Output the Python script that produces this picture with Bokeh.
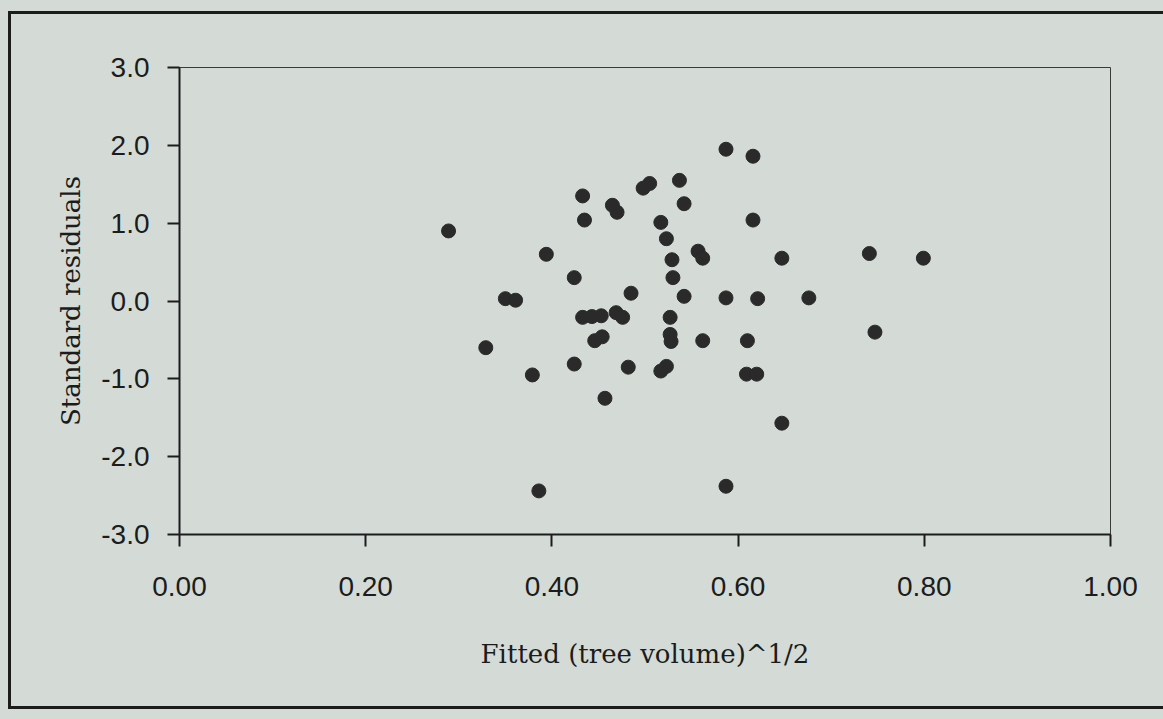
from bokeh.plotting import figure
from bokeh.models import FixedTicker, Range1d
from bokeh.embed import file_html
from bokeh.resources import INLINE

# Fitted (tree volume)^1/2 and standard residuals
fitted = [0.289, 0.350, 0.361, 0.329, 0.379, 0.386, 0.394, 0.424, 0.424, 0.433,
          0.435, 0.433, 0.443, 0.453, 0.446, 0.454, 0.457, 0.465, 0.470, 0.469,
          0.476, 0.482, 0.485, 0.498, 0.505, 0.517, 0.523, 0.517, 0.523, 0.529,
          0.530, 0.527, 0.527, 0.528, 0.537, 0.542, 0.542, 0.557, 0.562, 0.562,
          0.587, 0.587, 0.587, 0.616, 0.616, 0.610, 0.609, 0.620, 0.621, 0.647,
          0.647, 0.676, 0.741, 0.747, 0.799]
std_resid = [0.90, 0.03, 0.01, -0.60, -0.95, -2.44, 0.60, 0.30, -0.81, 1.35,
             1.04, -0.21, -0.20, -0.19, -0.51, -0.46, -1.25, 1.23, 1.14, -0.15,
             -0.21, -0.85, 0.10, 1.45, 1.51, 1.01, 0.80, -0.90, -0.84, 0.53,
             0.30, -0.21, -0.43, -0.52, 1.55, 1.25, 0.06, 0.64, 0.55, -0.51,
             1.95, 0.04, -2.38, 1.86, 1.04, -0.51, -0.94, -0.94, 0.03, 0.55,
             -1.57, 0.04, 0.61, -0.40, 0.55]

x_ticks = [0.0, 0.2, 0.4, 0.6, 0.8, 1.0]
x_tick_labels = ["0.00", "0.20", "0.40", "0.60", "0.80", "1.00"]
y_ticks = [-3.0, -2.0, -1.0, 0.0, 1.0, 2.0, 3.0]
y_tick_labels = ["-3.0", "-2.0", "-1.0", "0.0", "1.0", "2.0", "3.0"]

x_title = "Fitted (tree volume)^1/2"
y_title = "Standard residuals"

BG = "#d4dbd6"
INK = "#1c1c1c"

p = figure(width=1163, height=719, output_backend="svg", toolbar_location=None,
           x_range=Range1d(0, 1), y_range=Range1d(-3, 3),
           min_border_left=179, min_border_right=53,
           min_border_top=67, min_border_bottom=185)

p.background_fill_color = BG
# border area left transparent so the page background (with the panel frame) shows
p.border_fill_color = BG
p.border_fill_alpha = 0
p.outline_line_color = "#3a3a3a"
p.outline_line_width = 1
p.grid.visible = False

# outer frame of the scanned figure panel (left, top and bottom edges;
# its right edge lies beyond the picture)
line = f"linear-gradient({INK}, {INK})"
p.styles = {
    "background": (f"{line} 8px 12px / 3px 697px no-repeat, "
                   f"{line} 8px 11px / 1155px 3px no-repeat, "
                   f"{line} 8px 706px / 1155px 3px no-repeat, "
                   f"{BG}"),
}

p.scatter(fitted, std_resid, size=14, marker="circle",
          fill_color="#2a2a2a", line_color="#2a2a2a")

for ax, ticks, labels in ((p.xaxis[0], x_ticks, x_tick_labels),
                          (p.yaxis[0], y_ticks, y_tick_labels)):
    ax.ticker = FixedTicker(ticks=ticks)
    ax.major_label_overrides = dict(zip(ticks, labels))
    ax.minor_tick_line_color = None
    ax.major_tick_in = 0
    ax.major_tick_out = 12
    ax.major_tick_line_color = INK
    ax.major_tick_line_width = 2
    ax.axis_line_color = INK
    ax.axis_line_width = 2
    ax.major_label_text_font = "Liberation Sans"
    ax.major_label_text_font_size = "28px"
    ax.major_label_text_color = INK
    ax.axis_label_text_font = "DejaVu Serif"
    ax.axis_label_text_font_style = "normal"
    ax.axis_label_text_font_size = "26px"
    ax.axis_label_text_color = INK

p.xaxis.axis_label = x_title
p.yaxis.axis_label = y_title
p.xaxis.major_label_standoff = 30
p.yaxis.major_label_standoff = 18
p.xaxis.axis_label_standoff = 40
p.yaxis.axis_label_standoff = 12

open("out.html", "w").write(file_html(p, INLINE))
